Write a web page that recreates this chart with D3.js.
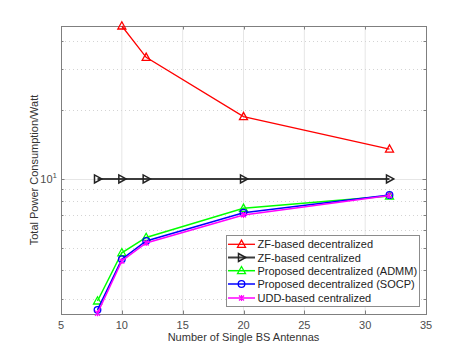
<!DOCTYPE html>
<html><head><meta charset="utf-8">
<script src="https://cdn.jsdelivr.net/npm/d3@7"></script>
<style>body{margin:0;background:#fff}svg{display:block;font-family:"Liberation Sans",Arial,sans-serif}</style>
</head><body>
<svg id="c" width="471" height="353"></svg>
<script>
const antennas = [8, 10, 12, 20, 32];
const zfDecX = [10, 12, 20, 32];
const zfDec = [46.4, 33.9, 18.7, 13.5];
const zfCen = [10, 10, 10, 10, 10];
const admm = [2.94, 4.77, 5.56, 7.45, 8.43];
const socp = [2.69, 4.47, 5.37, 7.13, 8.52];
const udd = [2.60, 4.39, 5.26, 6.97, 8.47];
const xTicks = [5, 10, 15, 20, 25, 30, 35];
const yMinor = [3, 4, 5, 6, 7, 8, 9, 20, 30, 40];
const legendNames = ["ZF-based decentralized", "ZF-based centralized", "Proposed decentralized (ADMM)", "Proposed decentralized (SOCP)", "UDD-based centralized"];

const svg = d3.select("#c");
const L = 61, R = 426, T = 26, B = 314;
const x = d3.scaleLinear().domain([5, 35]).range([L, R]);
const y = d3.scaleLog().domain([2.58, 46.4]).range([B, T]);

// grid
const g = svg.append("g");
g.selectAll(".vg").data(xTicks.slice(1, -1)).enter().append("line")
  .attr("x1", d => x(d)).attr("x2", d => x(d)).attr("y1", T).attr("y2", B)
  .attr("stroke", "#e6e6e6").attr("stroke-width", 1);
g.selectAll(".hg").data(yMinor).enter().append("line")
  .attr("x1", L).attr("x2", R).attr("y1", d => Math.round(y(d)) + 0.5).attr("y2", d => Math.round(y(d)) + 0.5)
  .attr("stroke", "#d4d4d4").attr("stroke-dasharray", "1,3");
g.append("line").attr("x1", L).attr("x2", R).attr("y1", Math.round(y(10)) + 0.5).attr("y2", Math.round(y(10)) + 0.5)
  .attr("stroke", "#e6e6e6");

// axes box
const axc = "#7f7f7f";
svg.append("rect").attr("x", L + 0.5).attr("y", T + 0.5).attr("width", R - L).attr("height", B - T)
  .attr("fill", "none").attr("stroke", axc);
// x ticks inward, bottom and top
xTicks.forEach(t => {
  const xx = Math.round(x(t)) + 0.5;
  svg.append("line").attr("x1", xx).attr("x2", xx).attr("y1", B).attr("y2", B - 3.5).attr("stroke", axc);
  svg.append("line").attr("x1", xx).attr("x2", xx).attr("y1", T).attr("y2", T + 3.5).attr("stroke", axc);
});
const yt = yMinor.concat([10]);
yt.forEach(t => {
  const yy = Math.round(y(t)) + 0.5;
  const len = t === 10 ? 3.5 : 2.5;
  svg.append("line").attr("x1", L).attr("x2", L + len).attr("y1", yy).attr("y2", yy).attr("stroke", axc);
  svg.append("line").attr("x1", R).attr("x2", R - len).attr("y1", yy).attr("y2", yy).attr("stroke", axc);
});
// tick labels
const tc = "#4d4d4d";
svg.selectAll(".xl").data(xTicks).enter().append("text")
  .attr("x", d => x(d)).attr("y", B + 15).attr("text-anchor", "middle")
  .attr("font-size", 11).attr("fill", tc).text(d => d);
const yl = svg.append("text").attr("x", L - 4).attr("y", y(10) + 4).attr("text-anchor", "end")
  .attr("font-size", 11).attr("fill", tc);
yl.append("tspan").text("10");
yl.append("tspan").attr("dy", -5).attr("font-size", 8).text("1");

svg.append("text").attr("x", (L + R) / 2).attr("y", 341).attr("text-anchor", "middle")
  .attr("font-size", 11).attr("fill", "#333").text("Number of Single BS Antennas");
svg.append("text").attr("transform", `translate(38,${(T + B) / 2}) rotate(-90)`).attr("text-anchor", "middle")
  .attr("font-size", 11).attr("fill", "#333").text("Total Power Consumption/Watt");

// series
const series = [
  {xs: zfDecX, ys: zfDec, color: "#ff0000", marker: "tri", lw: 1.3},
  {xs: antennas, ys: zfCen, color: "#3c3c3c", marker: "rtri", lw: 2},
  {xs: antennas, ys: admm, color: "#00ff00", marker: "tri", lw: 1.5},
  {xs: antennas, ys: socp, color: "#0000ff", marker: "circ", lw: 1.5},
  {xs: antennas, ys: udd, color: "#ff00ff", marker: "x", lw: 1.5}
];
function drawMarker(sel, type, cx, cy, color) {
  if (type === "tri") {
    sel.append("path").attr("d", `M${cx},${cy - 4.2}L${cx + 4},${cy + 3}L${cx - 4},${cy + 3}Z`)
      .attr("fill", "none").attr("stroke", color).attr("stroke-width", 1.3);
  } else if (type === "rtri") {
    sel.append("path").attr("d", `M${cx + 4.2},${cy}L${cx - 3},${cy - 4}L${cx - 3},${cy + 4}Z`)
      .attr("fill", "none").attr("stroke", "#222").attr("stroke-width", 1.5);
  } else if (type === "circ") {
    sel.append("circle").attr("cx", cx).attr("cy", cy).attr("r", 3.3)
      .attr("fill", "none").attr("stroke", color).attr("stroke-width", 1.3);
  } else {
    sel.append("path").attr("d", `M${cx - 2.5},${cy - 2.5}L${cx + 2.5},${cy + 2.5}M${cx - 2.5},${cy + 2.5}L${cx + 2.5},${cy - 2.5}M${cx},${cy - 3}L${cx},${cy + 3}`)
      .attr("fill", "none").attr("stroke", color).attr("stroke-width", 1.2);
  }
}
const line = d3.line().x(d => x(d[0])).y(d => y(d[1]));
series.forEach(s => {
  const pts = s.xs.map((v, i) => [v, s.ys[i]]);
  const gg = svg.append("g");
  gg.append("path").attr("d", line(pts)).attr("fill", "none").attr("stroke", s.color).attr("stroke-width", s.lw);
  pts.forEach(p => drawMarker(gg, s.marker, x(p[0]), y(p[1]), s.color));
});

// legend
const lg = svg.append("g");
lg.append("rect").attr("x", 226.5).attr("y", 235.5).attr("width", 193).attr("height", 71)
  .attr("fill", "#fff").attr("stroke", "#8c8c8c");
const ly = [244.3, 257.5, 270.7, 284, 298];
series.forEach((s, i) => {
  lg.append("line").attr("x1", 228).attr("x2", 255).attr("y1", ly[i]).attr("y2", ly[i])
    .attr("stroke", s.color).attr("stroke-width", s.lw);
  drawMarker(lg, s.marker, 241.5, ly[i], s.color);
  lg.append("text").attr("x", 257.5).attr("y", ly[i] + 4).attr("font-size", 11).attr("fill", "#222").text(legendNames[i]);
});
</script>
</body></html>
